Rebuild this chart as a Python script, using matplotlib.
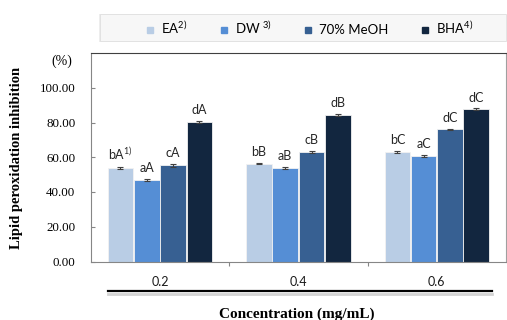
import matplotlib.pyplot as plt, numpy
from matplotlib.lines import Line2D
from matplotlib.patches import Rectangle

concentrations = ['0.2', '0.4', '0.6']
series = ['EA', 'DW', '70% MeOH', 'BHA']
legend_labels = [r'EA$^{\mathregular{2)}}$', r'DW $^{\mathregular{3)}}$', '70% MeOH', r'BHA$^{\mathregular{4)}}$']
values = {
    'EA':       [53.9, 56.4, 63.1],
    'DW':       [47.1, 53.9, 60.6],
    '70% MeOH': [55.4, 63.1, 76.0],
    'BHA':      [80.5, 84.3, 87.6],
}
errors = {
    'EA':       [0.6, 0.5, 0.5],
    'DW':       [0.5, 0.5, 0.5],
    '70% MeOH': [1.0, 0.5, 0.5],
    'BHA':      [0.5, 0.5, 0.5],
}
letters = {
    'EA':       [r'bA$^{\mathregular{1)}}$', 'bB', 'bC'],
    'DW':       ['aA', 'aB', 'aC'],
    '70% MeOH': ['cA', 'cB', 'dC'],
    'BHA':      ['dA', 'dB', 'dC'],
}
colors = ['#B9CDE5', '#558ED5', '#376092', '#12263F']

sans = 'Lato'
serif = 'Liberation Serif'

fig = plt.figure(figsize=(5.07, 3.20), dpi=100)
W, H = 507, 320
ax = fig.add_axes([90.7/W, 1-261.5/H, (506-90.7)/W, (261.5-53)/H])

x = numpy.arange(len(concentrations))
width = 0.185
for i, s in enumerate(series):
    pos = x + (i-1.5)*0.19
    ax.bar(pos, values[s], width, color=colors[i], edgecolor='#F2F2F2', linewidth=0.6, zorder=2)
    ax.errorbar(pos, values[s], yerr=errors[s], fmt='none', ecolor='#404040',
                elinewidth=0.8, capsize=2.5, capthick=0.8, zorder=3)
    for xp, v, e, lab in zip(pos, values[s], errors[s], letters[s]):
        ax.annotate(lab, (xp, v+e), xytext=(0, 3.5), textcoords='offset points',
                    ha='center', va='bottom', fontsize=9, family=sans, color='#262626')

ax.set_xlim(-0.5, 2.5)
ax.set_ylim(0, 120)
ax.set_yticks(numpy.arange(0, 101, 20))
ax.set_yticklabels([f'{t:.2f}' for t in numpy.arange(0, 101, 20)], family=serif, fontsize=9.3)
ax.set_xticks([0.5, 1.5])
ax.set_xticklabels([])
ax.tick_params(axis='x', direction='out', length=3, color='#868686')
ax.tick_params(axis='y', direction='in', length=3, color='#868686', pad=11)
for xi, c in zip(x, concentrations):
    ax.text(xi, -0.10, c, transform=ax.get_xaxis_transform(), ha='center', va='center',
            family=sans, fontsize=9, color='#1a1a1a')
ax.spines['left'].set_color('#868686')
ax.spines['bottom'].set_color('#868686')
ax.spines['top'].set_color('#404040')
ax.spines['right'].set_color('#A0A0A0')

fig.text(62/W, 1-61/H, '(%)', family=serif, fontsize=10, ha='center', va='center')
fig.text(17/W, 1-158/H, 'Lipid peroxidation inhibition', family=serif, fontsize=10.5,
         fontweight='bold', rotation=90, ha='center', va='center')
fig.text(297/W, 1-314/H, 'Concentration (mg/mL)', family=serif, fontsize=11,
         fontweight='bold', ha='center', va='center')

# underline below tick labels with shadow
fig.add_artist(Line2D([108/W, 492/W], [1-293.5/H, 1-293.5/H], color='#C8C8C8', linewidth=2.0, alpha=0.8))
fig.add_artist(Line2D([108/W, 492/W], [1-291/H, 1-291/H], color='black', linewidth=1.6))

# legend box
fig.add_artist(Rectangle((99/W, 1-42/H), 407/W, 28/H, facecolor='#EDEDED', edgecolor='none'))
fig.add_artist(Rectangle((100/W, 1-41/H), 406/W, 27/H, facecolor='#F7F7F7', edgecolor='#E0E0E0', linewidth=0.6))
handles = [Line2D([], [], marker='s', linestyle='none', markersize=4.5, color=c) for c in colors]
fig.legend(handles, legend_labels, ncol=4, loc='center', bbox_to_anchor=(309/W, 1-28/H),
           frameon=False, prop={'family': sans, 'size': 9.5}, handlelength=0.8,
           handletextpad=0.4, columnspacing=2.4)

fig.savefig('out.png', dpi=100)
